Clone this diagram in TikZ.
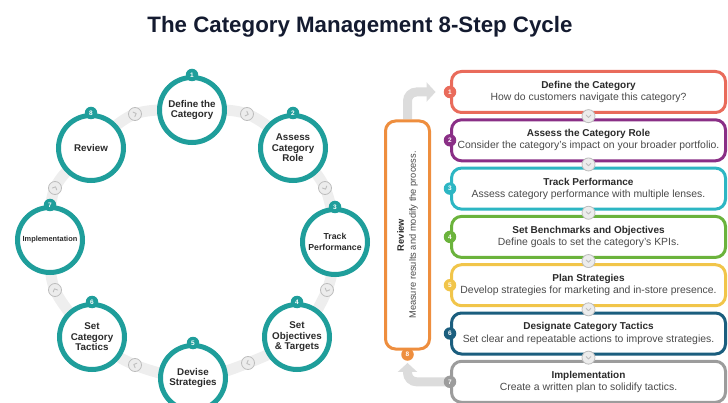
\documentclass[tikz,border=0pt]{standalone}
\usepackage{fontspec}
\setmainfont{Liberation Sans}
\usetikzlibrary{arrows.meta,calc,backgrounds}

\definecolor{titleink}{HTML}{141B30}
\definecolor{ink}{HTML}{2B2B2B}
\definecolor{softink}{HTML}{4A4A4A}
\definecolor{ringteal}{HTML}{1F9E9B}
\definecolor{trackgray}{HTML}{EEEEEE}
\definecolor{chevfill}{HTML}{ECECEC}
\definecolor{chevline}{HTML}{BDBDBD}
\definecolor{arrowgray}{HTML}{DCDCDC}
\definecolor{cRed}{HTML}{E96B5B}
\definecolor{cPurple}{HTML}{8A2F86}
\definecolor{cCyan}{HTML}{2DB6C3}
\definecolor{cGreen}{HTML}{6BB33C}
\definecolor{cYellow}{HTML}{F1C54A}
\definecolor{cNavy}{HTML}{1B5E7E}
\definecolor{cGray}{HTML}{9C9C9C}
\definecolor{cOrange}{HTML}{EE8E3E}

% heading line inside a step box
\newcommand\boxhead[1]{{\bfseries\fontsize{10}{12.2}\selectfont\color{ink}#1}}

% small round marker with a chevron pointing along the direction of travel
\newcommand\chevmark[4]{%
  \node[chev] (#1) at (#2) {};
  \draw[chevline, line width=0.9pt, line cap=round, line join=round,
        shift={(#1.center)}, rotate=#3] (-#4,-1.1) -- (0,1.3) -- (#4,-1.1);}

\begin{document}
\begin{tikzpicture}[x=1pt,y=-1pt,
  stepcircle/.style={circle, draw=ringteal, line width=5pt, fill=white,
    minimum size=65pt, inner sep=0pt, align=center, text=ink,
    font=\bfseries\fontsize{9.8}{10.6}\selectfont},
  badge/.style={circle, fill=#1, text=white, minimum size=12.5pt,
    inner sep=0pt, font=\bfseries\fontsize{6.5}{7}\selectfont},
  chev/.style={circle, fill=chevfill, draw=chevline, line width=0.8pt,
    minimum size=13pt, inner sep=0pt},
  stepbox/.style={rectangle, rounded corners=10pt, draw=#1, line width=3pt,
    fill=white, minimum width=274pt, minimum height=41pt, inner sep=0pt,
    align=center, text=softink, font=\fontsize{10.4}{12.2}\selectfont},
  track/.style={trackgray, line width=11pt},
  returnarrow/.style={arrowgray, line width=9pt, rounded corners=9pt,
    -{Triangle[length=9pt, width=19pt]}}
]
\useasboundingbox (0,0) rectangle (728,403);

% title
\node[font=\bfseries\fontsize{22.3}{26}\selectfont, text=titleink] (title)
  at (360,27) {The Category Management 8-Step Cycle};

% ---------- the cycle ----------
\coordinate (p1) at (192,110);
\coordinate (p2) at (293,148);
\coordinate (p3) at (335,242);
\coordinate (p4) at (297,337);
\coordinate (p5) at (193,378);
\coordinate (p6) at (92,337);
\coordinate (p7) at (50,240);
\coordinate (p8) at (91,148);
\coordinate (q12) at (247,114);
\coordinate (q23) at (325,188);
\coordinate (q34) at (327,290);
\coordinate (q45) at (248,363);
\coordinate (q56) at (135,365);
\coordinate (q67) at (55,290);
\coordinate (q78) at (55,188);
\coordinate (q81) at (135,114);

\draw[track] plot[smooth cycle, tension=0.55] coordinates
  {(p1) (q12) (p2) (q23) (p3) (q34) (p4) (q45) (p5) (q56) (p6) (q67) (p7) (q78) (p8) (q81)};

\chevmark{m12}{q12}{69}{2.4}
\chevmark{m23}{q23}{24}{2.4}
\chevmark{m34}{q34}{-22}{2.4}
\chevmark{m45}{q45}{-68}{2.4}
\chevmark{m56}{q56}{-112}{2.4}
\chevmark{m67}{q67}{-157}{2.4}
\chevmark{m78}{q78}{156}{2.4}
\chevmark{m81}{q81}{111}{2.4}

\node[stepcircle] (s1) at (p1) {Define the\\Category};
\node[stepcircle] (s2) at (p2) {Assess\\Category\\Role};
\node[stepcircle, font=\bfseries\fontsize{8.7}{10.4}\selectfont] (s3) at (p3) {Track\\Performance};
\node[stepcircle] (s4) at (p4) {Set\\Objectives\\\& Targets};
\node[stepcircle] (s5) at (p5) {Devise\\Strategies};
\node[stepcircle] (s6) at (p6) {Set\\Category\\Tactics};
\node[stepcircle, font=\bfseries\fontsize{7.4}{9}\selectfont] (s7) at (p7) {Implementation};
\node[stepcircle] (s8) at (p8) {Review};

\foreach \k in {1,...,8}
  \node[badge=ringteal] (t\k) at (s\k.north) {\k};

% ---------- the step list ----------
\node[stepbox=cRed]    (b1) at (588.5,92.0)  {\boxhead{Define the Category}\\How do customers navigate this category?};
\node[stepbox=cPurple] (b2) at (588.5,140.3) {\boxhead{Assess the Category Role}\\Consider the category's impact on your broader portfolio.};
\node[stepbox=cCyan]   (b3) at (588.5,188.6) {\boxhead{Track Performance}\\Assess category performance with multiple lenses.};
\node[stepbox=cGreen]  (b4) at (588.5,236.9) {\boxhead{Set Benchmarks and Objectives}\\Define goals to set the category's KPIs.};
\node[stepbox=cYellow] (b5) at (588.5,285.2) {\boxhead{Plan Strategies}\\Develop strategies for marketing and in-store presence.};
\node[stepbox=cNavy]   (b6) at (588.5,333.5) {\boxhead{Designate Category Tactics}\\Set clear and repeatable actions to improve strategies.};
\node[stepbox=cGray]   (b7) at (588.5,381.8) {\boxhead{Implementation}\\Create a written plan to solidify tactics.};

% review panel
\node[rectangle, rounded corners=10pt, draw=cOrange, line width=3pt, fill=white,
      minimum width=44pt, minimum height=228pt, inner sep=0pt] (rv) at (407.5,235) {};
\node[rotate=90, align=center, text=softink, font=\fontsize{9.3}{12}\selectfont] (rvtext)
  at (rv.center) {{\bfseries\color{ink}Review}\\Measure results and modify the process.};

% step badges
\node[badge=cRed]    (a1) at (b1.west) {1};
\node[badge=cPurple] (a2) at (b2.west) {2};
\node[badge=cCyan]   (a3) at (b3.west) {3};
\node[badge=cGreen]  (a4) at (b4.west) {4};
\node[badge=cYellow] (a5) at (b5.west) {5};
\node[badge=cNavy]   (a6) at (b6.west) {6};
\node[badge=cGray]   (a7) at (b7.west) {7};
\node[badge=cOrange] (a8) at ([yshift=-4pt]rv.south) {8};

% return arrows, beneath everything else
\begin{pgfonlayer}{background}
\draw[returnarrow, shorten >=8pt] (rv.north) -- (rv.north |- a1.center) -- (a1.west);
\draw[returnarrow, shorten >=2pt] (a7.center) -- (rv.south |- a7.center) -- (a8.south);
\end{pgfonlayer}

% chevrons between consecutive boxes
\foreach \i/\j in {1/2,2/3,3/4,4/5,5/6,6/7}
  \chevmark{k\i}{$(b\i.south)!0.5!(b\j.north)$}{0}{2.4};

\end{tikzpicture}
\end{document}
